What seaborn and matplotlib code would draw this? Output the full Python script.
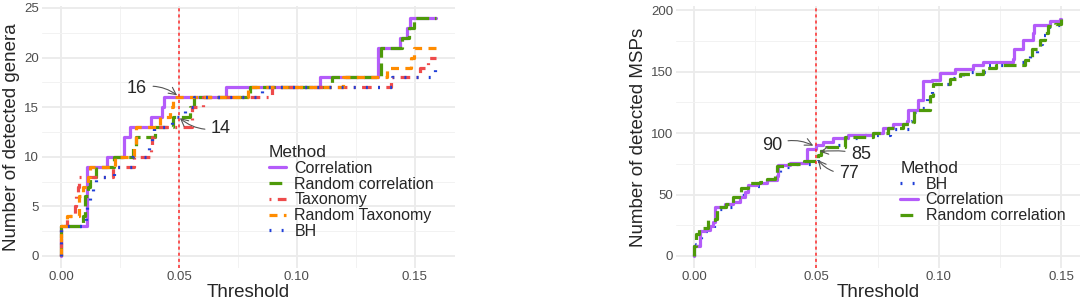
import numpy as np
import pandas as pd
import matplotlib
matplotlib.use("Agg")
import matplotlib.pyplot as plt
import seaborn as sns
from matplotlib.ticker import MultipleLocator, FormatStrFormatter

sns.set_theme(style="whitegrid")
plt.rcParams['font.family'] = ['Liberation Sans', 'DejaVu Sans']

# ---- Left panel: genera ----
corr_x = [0, 0, 0.011, 0.0195, 0.0267, 0.0292, 0.038, 0.0427, 0.0436, 0.0698, 0.1097, 0.1345, 0.1436, 0.1467, 0.148, 0.159]
corr_y = [0, 3, 9, 10, 12, 13, 14, 15, 16, 17, 18, 21, 22, 23, 24, 24]

rcorr_x = [0, 0, 0.0095, 0.010, 0.0113, 0.0125, 0.0147, 0.0225, 0.0306, 0.032, 0.040, 0.0475, 0.0545, 0.0562, 0.080, 0.1147, 0.1355, 0.1445, 0.1475, 0.1495, 0.159]
rcorr_y = [0, 3, 4, 6, 7, 8, 9, 10, 11, 12, 13, 14, 15, 16, 17, 18, 21, 22, 23, 24, 24]

tax_x = [0, 0, 0.0024, 0.006, 0.0065, 0.007, 0.0075, 0.022, 0.031, 0.038, 0.0384, 0.0395, 0.0554, 0.0556, 0.060, 0.0893, 0.140, 0.152, 0.1555, 0.159]
tax_y = [0, 3, 4, 5, 6, 7, 8, 9, 10, 11, 12, 13, 14, 15, 16, 17, 18, 19, 20, 20]

rtax_x = [0, 0, 0.0024, 0.0077, 0.0094, 0.0113, 0.0123, 0.0229, 0.031, 0.0318, 0.042, 0.0462, 0.0476, 0.0792, 0.1194, 0.138, 0.1485, 0.1495, 0.159]
rtax_y = [0, 3, 4, 6, 7, 8, 9, 10, 11, 13, 14, 15, 16, 17, 18, 19, 20, 21, 21]

bh_x = [0, 0, 0.0105, 0.011, 0.0125, 0.0135, 0.015, 0.0225, 0.030, 0.0375, 0.0385, 0.0395, 0.047, 0.0525, 0.0565, 0.085, 0.1405, 0.1585, 0.159]
bh_y = [0, 3, 4, 5, 6, 7, 8, 9, 10, 11, 12, 13, 14, 15, 16, 17, 18, 19, 19]

# ---- Right panel: MSPs ----
corr2_x = [0, 0, 0.0024, 0.0045, 0.0065, 0.0079, 0.0086, 0.0127, 0.016, 0.0188, 0.0208, 0.0222, 0.0256, 0.0297,
           0.034, 0.0344, 0.0392, 0.0463, 0.050, 0.0528, 0.0569, 0.063, 0.0732, 0.0773, 0.0814, 0.0868, 0.0875,
           0.0916, 0.0936, 0.097, 0.1004, 0.1065, 0.114, 0.118, 0.1304, 0.1308, 0.1345, 0.1385, 0.139, 0.1453, 0.1494, 0.150]
corr2_y = [0, 8, 20, 21, 24, 28, 40, 42, 44, 48, 52, 58, 59, 62,
           65, 74, 76, 87, 90, 93, 96, 98, 100, 104, 107, 110, 119,
           127, 142, 143, 149, 152, 155, 158, 160, 168, 176, 181, 188, 191, 193, 193]

rcorr2_x = [0, 0, 0.001, 0.002, 0.0058, 0.0085, 0.0095, 0.013, 0.016, 0.019, 0.022, 0.027, 0.030, 0.033, 0.034, 0.038,
            0.045, 0.0505, 0.052, 0.054, 0.0616, 0.0732, 0.0794, 0.0855, 0.0895, 0.0898, 0.0963, 0.0976, 0.1045,
            0.1086, 0.118, 0.1235, 0.135, 0.1378, 0.1412, 0.1433, 0.1446, 0.1473, 0.150]
rcorr2_y = [0, 8, 18, 23, 29, 30, 40, 42, 48, 55, 59, 60, 63, 66, 73, 75,
            77, 82, 85, 89, 97, 100, 104, 107, 109, 119, 130, 140, 144,
            148, 153, 155, 159, 168, 176, 181, 187, 189, 193]

bh2_x = [0, 0, 0.001, 0.003, 0.006, 0.008, 0.009, 0.012, 0.018, 0.022, 0.028, 0.033, 0.035, 0.040, 0.048, 0.0505,
         0.055, 0.060, 0.070, 0.080, 0.088, 0.089, 0.092, 0.095, 0.097, 0.105, 0.110, 0.120, 0.130, 0.135, 0.137,
         0.140, 0.142, 0.145, 0.150]
bh2_y = [0, 8, 10, 20, 22, 25, 38, 40, 50, 57, 60, 65, 72, 75, 77, 85,
         90, 96, 98, 103, 110, 117, 120, 130, 140, 145, 150, 155, 158, 160, 165,
         172, 180, 188, 192]

methods_left = ["Correlation", "Random correlation", "Taxonomy", "Random Taxonomy", "BH"]
methods_right = ["BH", "Correlation", "Random correlation"]

palette = {"Correlation": "#B45CFA", "Random correlation": "#4E9A0A", "Taxonomy": "#EE4B4B",
           "Random Taxonomy": "#FF8C00", "BH": "#1F3FD8"}
dashes = {"Correlation": "", "Random correlation": (4, 1.8), "Taxonomy": (0.6, 2, 3, 2),
          "Random Taxonomy": (2.5, 2), "BH": (0.6, 3.2)}


def long_df(series):
    frames = []
    for name, xs, ys in series:
        frames.append(pd.DataFrame({"Threshold": xs, "Count": ys, "Method": name}))
    return pd.concat(frames, ignore_index=True)


left_df = long_df([("Correlation", corr_x, corr_y), ("Random correlation", rcorr_x, rcorr_y),
                   ("Taxonomy", tax_x, tax_y), ("Random Taxonomy", rtax_x, rtax_y), ("BH", bh_x, bh_y)])
right_df = long_df([("BH", bh2_x, bh2_y), ("Correlation", corr2_x, corr2_y),
                    ("Random correlation", rcorr2_x, rcorr2_y)])

fig = plt.figure(figsize=(10.84, 3.03), dpi=100)
ax1 = fig.add_axes([42 / 1084, 1 - 268 / 303, 413 / 1084, 262 / 303])
ax2 = fig.add_axes([676 / 1084, 1 - 268 / 303, 404 / 1084, 262 / 303])


def style_axis(ax, ylabel, xlim, ylim, ymaj):
    ax.set_xlim(*xlim)
    ax.set_ylim(*ylim)
    ax.xaxis.set_major_locator(MultipleLocator(0.05))
    ax.xaxis.set_minor_locator(MultipleLocator(0.025))
    ax.xaxis.set_major_formatter(FormatStrFormatter("%.2f"))
    ax.yaxis.set_major_locator(MultipleLocator(ymaj))
    ax.yaxis.set_minor_locator(MultipleLocator(ymaj / 2))
    ax.set_facecolor("white")
    for s in ax.spines.values():
        s.set_visible(False)
    ax.grid(which="major", color="#EBEBEB", lw=1.3)
    ax.grid(which="minor", color="#F2F2F2", lw=0.7)
    ax.tick_params(which="both", length=0, labelsize=9.5, labelcolor="#4D4D4D", pad=2)
    ax.set_xlabel("Threshold", fontsize=13.5, labelpad=1)
    ax.set_ylabel(ylabel, fontsize=13.5, labelpad=3)
    ax.axvline(0.05, color="#FF2A2A", ls=(0, (2, 2)), lw=1.1, zorder=5)


for ax, df, order in [(ax1, left_df, methods_left), (ax2, right_df, methods_right)]:
    sns.lineplot(data=df, x="Threshold", y="Count", hue="Method", style="Method",
                 hue_order=order, style_order=order, palette=palette, dashes=dashes,
                 estimator=None, sort=False, drawstyle="steps-post", lw=2.3, ax=ax)

style_axis(ax1, "Number of detected genera", (-0.00805, 0.167), (-1.21, 25.2), 5)
style_axis(ax2, "Number of detected MSPs", (-0.00735, 0.1576), (-9.76, 203.3), 50)

for ax, pos in [(ax1, (0.53, 0.50)), (ax2, (0.535, 0.44))]:
    h, l = ax.get_legend_handles_labels()
    ax.legend(h, l, title="Method", loc="upper left", bbox_to_anchor=pos, frameon=False,
              fontsize=11.5, title_fontsize=12.5, handlelength=1.1, labelspacing=0.05,
              handletextpad=0.5, borderpad=0, alignment="left")

arrow = dict(arrowstyle="->", color="#555555", lw=0.8, shrinkA=2, shrinkB=0)
ann_fs = 13
ax1.annotate("16", xy=(0.0492, 16.2), xytext=(0.0322, 16.9), fontsize=ann_fs, ha="center", va="center",
             arrowprops=dict(connectionstyle="arc3,rad=-0.25", **arrow))
ax1.annotate("14", xy=(0.0504, 13.9), xytext=(0.0678, 12.9), fontsize=ann_fs, ha="center", va="center",
             arrowprops=dict(connectionstyle="arc3,rad=-0.25", **arrow))
ax2.annotate("90", xy=(0.0487, 89.7), xytext=(0.0318, 89.7), fontsize=ann_fs, ha="center", va="center",
             arrowprops=dict(connectionstyle="arc3,rad=-0.25", **arrow))
ax2.annotate("85", xy=(0.0514, 84.8), xytext=(0.0682, 82.7), fontsize=ann_fs, ha="center", va="center",
             arrowprops=dict(connectionstyle="arc3,rad=0.1", **arrow))
ax2.annotate("77", xy=(0.0506, 78), xytext=(0.0633, 67), fontsize=ann_fs, ha="center", va="center",
             arrowprops=dict(connectionstyle="arc3,rad=-0.25", **arrow))

fig.savefig("out.png", dpi=100)
